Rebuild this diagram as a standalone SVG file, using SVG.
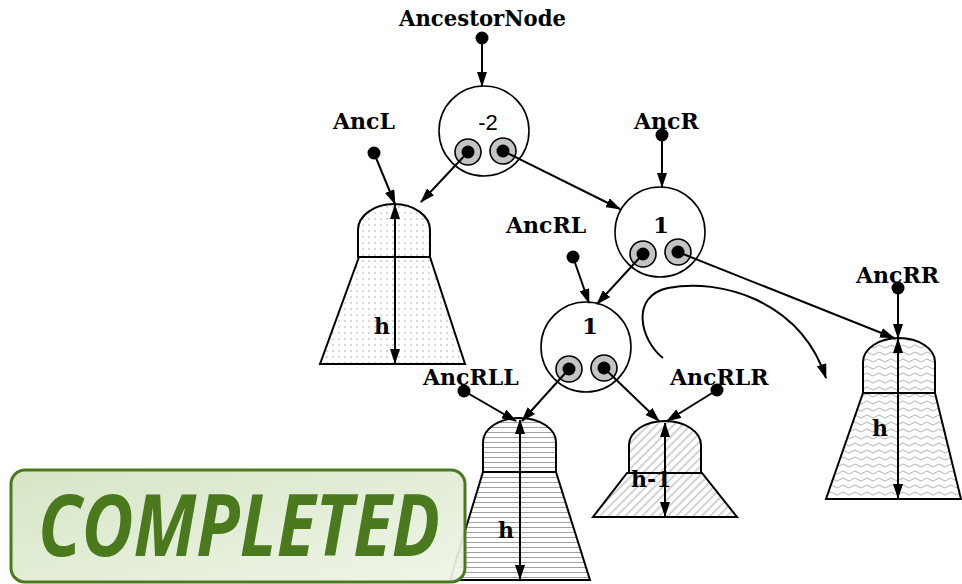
<svg xmlns="http://www.w3.org/2000/svg" width="962" height="584" viewBox="0 0 962 584">
<defs>
<style>
.lbl{font-family:"DejaVu Serif","Liberation Serif",serif;font-weight:bold;font-size:22px;fill:#000}
.num{font-family:"DejaVu Serif","Liberation Serif",serif;font-weight:bold;font-size:23px;fill:#000;text-anchor:middle}
.neg{font-family:"Liberation Sans",Arial,sans-serif;font-size:22px;fill:#000;text-anchor:middle}
.node{fill:#fff;stroke:#000;stroke-width:1.6}
.ptr{fill:#c4c4c4;stroke:#000;stroke-width:1.6}
.dot{fill:#000}
.edge{fill:none;stroke:#000;stroke-width:2;marker-end:url(#ah)}
.dbl{fill:none;stroke:#000;stroke-width:2;marker-start:url(#ah);marker-end:url(#ah)}
.tree{stroke:#000;stroke-width:2}
.badge-text{font-family:"Open Sans","Noto Sans",sans-serif;font-weight:bold;font-style:italic;font-size:86px;fill:#4b7a1e}
</style>
<marker id="ah" viewBox="0 0 15 10" refX="14" refY="5" markerWidth="15" markerHeight="10" markerUnits="userSpaceOnUse" orient="auto-start-reverse">
<path d="M0,0 L15,5 L0,10 Z" fill="#000"/>
</marker>
<pattern id="pDots" width="6" height="6" patternUnits="userSpaceOnUse">
<rect width="6" height="6" fill="#fff"/>
<circle cx="3" cy="3" r="0.8" fill="#a8a8a8"/>
</pattern>
<pattern id="pHoriz" width="6" height="5" patternUnits="userSpaceOnUse">
<rect width="6" height="5" fill="#fff"/>
<line x1="0" y1="2.5" x2="6" y2="2.5" stroke="#a0a0a0" stroke-width="1"/>
</pattern>
<pattern id="pDiag" width="6" height="6" patternUnits="userSpaceOnUse" patternTransform="rotate(45)">
<rect width="6" height="6" fill="#fff"/>
<line x1="3" y1="0" x2="3" y2="6" stroke="#a8a8a8" stroke-width="1"/>
</pattern>
<pattern id="pWave" width="12" height="7" patternUnits="userSpaceOnUse">
<rect width="12" height="7" fill="#fff"/>
<path d="M0,3.5 Q3,0.5 6,3.5 T12,3.5" fill="none" stroke="#a8a8a8" stroke-width="0.9"/>
</pattern>
<linearGradient id="gBadge" x1="0" y1="0" x2="1" y2="1">
<stop offset="0" stop-color="#d3e3c0"/>
<stop offset="1" stop-color="#eef4e7"/>
</linearGradient>
</defs>
<rect width="962" height="584" fill="#fff"/>

<g id="tree-AncL">
<path class="tree" fill="url(#pDots)" d="M359,257 L430,257 L465,364 L320,364 Z"/>
<path class="tree" fill="url(#pDots)" d="M358,257 V230 A36,26 0 0 1 430,230 V257 Z"/>
<text class="lbl" x="374" y="334">h</text>
</g>
<g id="tree-AncRR">
<path class="tree" fill="url(#pWave)" d="M863,393 L935,393 L961,499 L826,499 Z"/>
<path class="tree" fill="url(#pWave)" d="M863,393 V362 A36,24 0 0 1 935,362 V393 Z"/>
<text class="lbl" x="872" y="436">h</text>
</g>
<g id="tree-AncRLL">
<path class="tree" fill="url(#pHoriz)" d="M483,472 L556,472 L590,580 L450,580 Z"/>
<path class="tree" fill="url(#pHoriz)" d="M483,472 V442 A36.5,24 0 0 1 556,442 V472 Z"/>
<text class="lbl" x="498" y="538">h</text>
</g>
<g id="tree-AncRLR">
<path class="tree" fill="url(#pDiag)" d="M627,473 L702,473 L737,517 L593,517 Z"/>
<path class="tree" fill="url(#pDiag)" d="M629,473 V445 A36,24 0 0 1 701,445 V473 Z"/>
<text class="lbl" x="631" y="487">h-1</text>
</g>

<g id="node-m2">
<circle class="node" cx="484" cy="131" r="45"/>
<text class="neg" x="488" y="130">-2</text>
<circle class="ptr" cx="468" cy="152" r="13"/>
<circle class="dot" cx="468" cy="152" r="6.5"/>
<circle class="ptr" cx="503" cy="151" r="13"/>
<circle class="dot" cx="503" cy="151" r="6.5"/>
</g>
<g id="node-1a">
<circle class="node" cx="660" cy="232" r="45"/>
<text class="num" x="661" y="233">1</text>
<circle class="ptr" cx="643" cy="254" r="13"/>
<circle class="dot" cx="643" cy="254" r="6.5"/>
<circle class="ptr" cx="678" cy="252" r="13"/>
<circle class="dot" cx="678" cy="252" r="6.5"/>
</g>
<g id="node-1b">
<circle class="node" cx="586" cy="347" r="45"/>
<text class="num" x="590" y="334">1</text>
<circle class="ptr" cx="569" cy="369" r="13"/>
<circle class="dot" cx="569" cy="369" r="6.5"/>
<circle class="ptr" cx="604" cy="368" r="13"/>
<circle class="dot" cx="604" cy="368" r="6.5"/>
</g>

<g id="label-AncestorNode">
<text class="lbl" x="399" y="26" textLength="167" lengthAdjust="spacingAndGlyphs">AncestorNode</text>
<circle class="dot" cx="482" cy="38" r="6.5"/>
</g>
<g id="label-AncL">
<text class="lbl" x="333" y="129">AncL</text>
<circle class="dot" cx="374" cy="153" r="6.5"/>
</g>
<g id="label-AncR">
<text class="lbl" x="634" y="129">AncR</text>
<circle class="dot" cx="662" cy="135" r="6.5"/>
</g>
<g id="label-AncRL">
<text class="lbl" x="506" y="233">AncRL</text>
<circle class="dot" cx="573" cy="257" r="6.5"/>
</g>
<g id="label-AncRR">
<text class="lbl" x="856" y="283">AncRR</text>
<circle class="dot" cx="898" cy="288" r="6.5"/>
</g>
<g id="label-AncRLL">
<text class="lbl" x="423" y="385">AncRLL</text>
<circle class="dot" cx="464" cy="391" r="6.5"/>
</g>
<g id="label-AncRLR">
<text class="lbl" x="670" y="385">AncRLR</text>
<circle class="dot" cx="717" cy="390" r="6.5"/>
</g>

<g id="connectors">
<path class="edge" d="M482,38 L482,86"/>
<path class="edge" d="M374,153 L395,204"/>
<path class="edge" d="M468,152 L421,202"/>
<path class="edge" d="M503,151 L620,209"/>
<path class="edge" d="M662,135 L662,187"/>
<path class="edge" d="M643,254 L597,304"/>
<path class="edge" d="M573,257 L589,303"/>
<path class="edge" d="M678,252 L894,338"/>
<path class="edge" d="M898,288 L898,338"/>
<path class="edge" d="M569,369 L522,421"/>
<path class="edge" d="M464,391 L516,421"/>
<path class="edge" d="M604,368 L659,421"/>
<path class="edge" d="M717,390 L667,421"/>
<path class="edge" d="M663,358 C640,340 630,296 668,288 C720,278 800,300 826,378"/>
<path class="dbl" d="M395,205 L395,363"/>
<path class="dbl" d="M898,339 L898,498"/>
<path class="dbl" d="M520,420 L520,579"/>
<path class="dbl" d="M665,423 L665,516"/>
</g>

<g id="badge">
<rect x="11" y="470" width="454" height="112" rx="14" fill="url(#gBadge)" fill-opacity="0.92" stroke="#4b7a1e" stroke-width="3"/>
<text class="badge-text" x="38" y="556" textLength="402" lengthAdjust="spacingAndGlyphs">COMPLETED</text>
</g>
</svg>
